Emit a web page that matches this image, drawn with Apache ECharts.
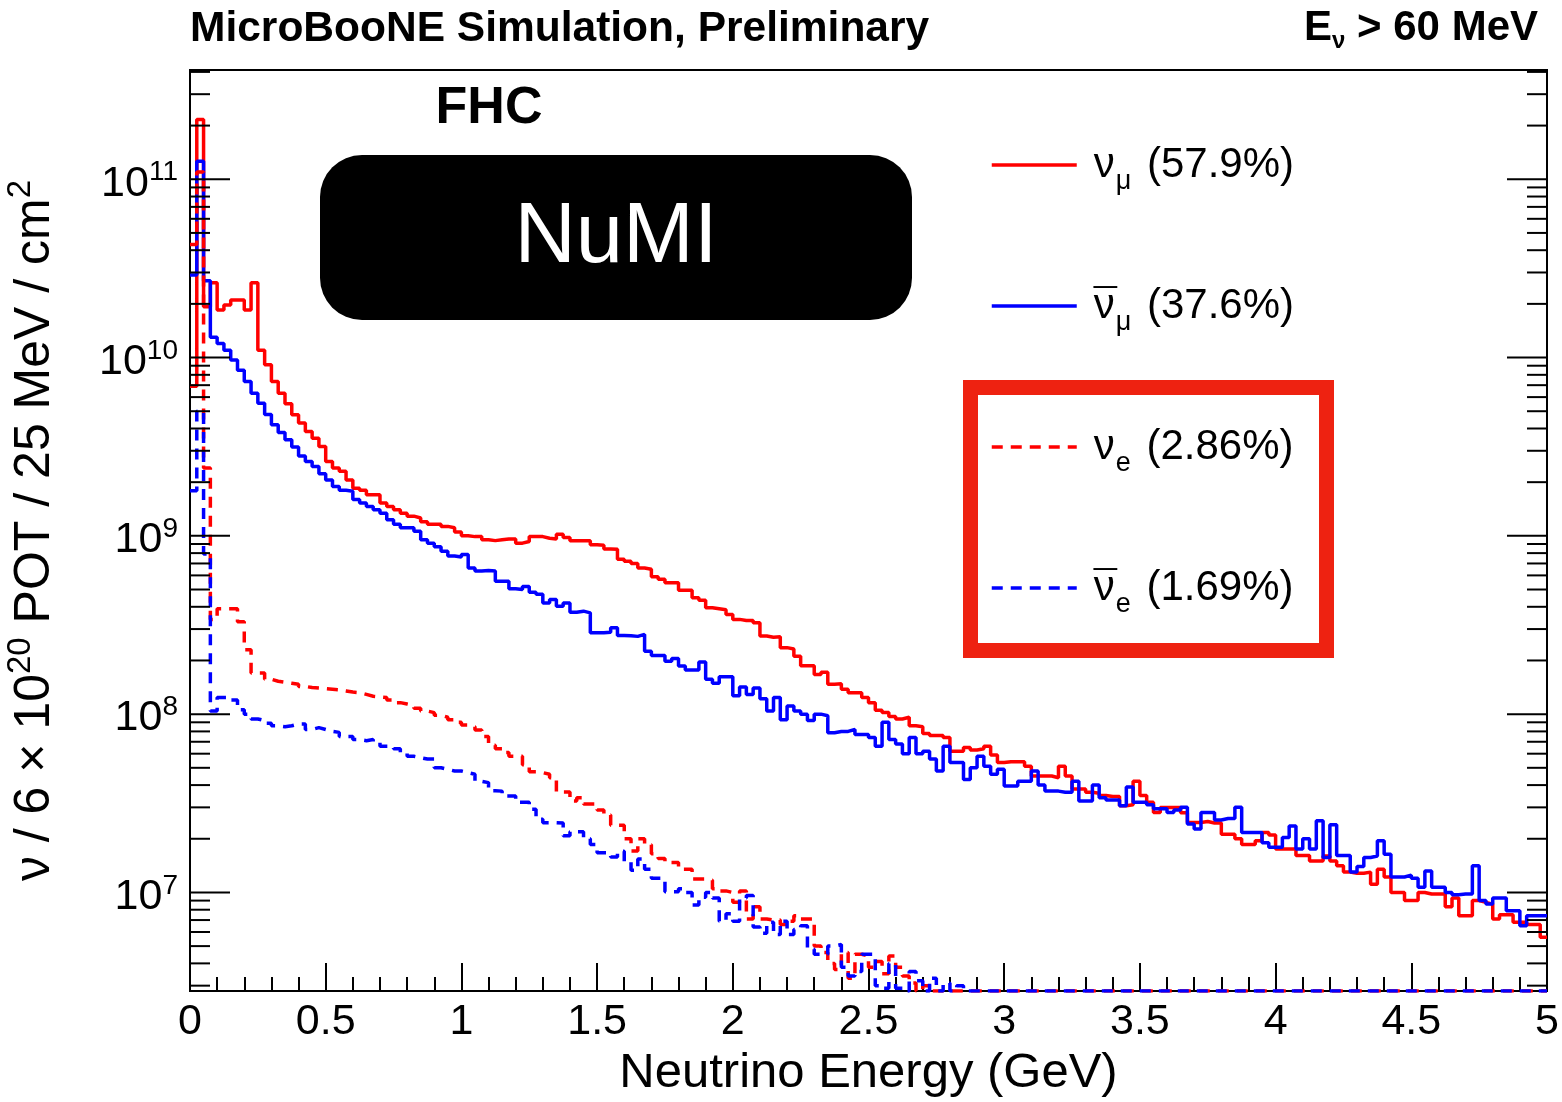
<!DOCTYPE html>
<html>
<head>
<meta charset="utf-8">
<title>NuMI flux at MicroBooNE</title>
<script src="https://cdn.jsdelivr.net/npm/echarts@6/dist/echarts.min.js"></script>
<style>
  html, body { margin: 0; padding: 0; background: #fff; }
  #flux { width: 1562px; height: 1102px; }
</style>
</head>
<body>
<div id="flux"></div>
<script>
// 25 MeV bins from 0 to 5 GeV, flux per bin
const binWidth = 0.025;

const numu = [
  6.9e9, 2.16e11, 1.93e10, 2.63e10, 1.85e10, 1.97e10, 2.1e10, 2.1e10, 1.85e10, 2.63e10,
  1.1e10, 9.1e9, 7.35e9, 6.3e9, 5.5e9, 4.77e9, 4.29e9, 3.85e9, 3.53e9, 3.17e9,
  2.61e9, 2.4e9, 2.3e9, 2.06e9, 1.85e9, 1.8e9, 1.7e9, 1.7e9, 1.53e9, 1.46e9,
  1.4e9, 1.34e9, 1.29e9, 1.26e9, 1.2e9, 1.16e9, 1.16e9, 1.13e9, 1.11e9, 1.05e9,
  1.0e9, 9.9e8, 9.9e8, 9.5e8, 9.4e8, 9.5e8, 9.6e8, 9.6e8, 9.1e8, 9.3e8,
  9.9e8, 9.9e8, 9.7e8, 9.6e8, 1.02e9, 9.8e8, 9.4e8, 9.4e8, 9.4e8, 8.9e8,
  8.85e8, 8.45e8, 8.4e8, 7.4e8, 7.2e8, 7.0e8, 6.6e8, 6.5e8, 5.9e8, 5.7e8,
  5.45e8, 5.45e8, 4.95e8, 4.95e8, 4.5e8, 4.35e8, 3.95e8, 3.9e8, 3.85e8, 3.62e8,
  3.4e8, 3.35e8, 3.35e8, 3.25e8, 2.74e8, 2.7e8, 2.72e8, 2.36e8, 2.32e8, 2.11e8,
  1.87e8, 1.87e8, 1.67e8, 1.72e8, 1.47e8, 1.48e8, 1.38e8, 1.32e8, 1.32e8, 1.24e8,
  1.16e8, 1.05e8, 1.02e8, 9.7e7, 9.4e7, 9.6e7, 8.6e7, 8.5e7, 7.8e7, 7.6e7,
  7.6e7, 7.4e7, 6.2e7, 6.2e7, 6.5e7, 6.3e7, 6.4e7, 6.6e7, 5.9e7, 5.35e7,
  5.4e7, 5.4e7, 5.4e7, 5.1e7, 4.5e7, 4.5e7, 4.5e7, 4.4e7, 5.1e7, 4.5e7,
  3.8e7, 3.8e7, 3.65e7, 3.6e7, 3.5e7, 3.45e7, 3.45e7, 3.06e7, 3.1e7, 4.2e7,
  3.5e7, 3.2e7, 2.81e7, 2.99e7, 2.99e7, 2.99e7, 2.8e7, 2.47e7, 2.47e7, 2.5e7,
  2.45e7, 2.45e7, 2.12e7, 2.12e7, 2.0e7, 1.86e7, 1.86e7, 1.95e7, 2.17e7, 2.1e7,
  1.75e7, 1.75e7, 1.75e7, 1.61e7, 1.61e7, 1.5e7, 1.5e7, 1.6e7, 1.5e7, 1.41e7,
  1.3e7, 1.28e7, 1.28e7, 1.3e7, 1.11e7, 1.35e7, 1.22e7, 1.0e7, 1.0e7, 9.0e6,
  9.0e6, 1.0e7, 9.8e6, 9.8e6, 9.8e6, 8.3e6, 9.3e6, 7.4e6, 7.4e6, 9.0e6,
  8.8e6, 8.6e6, 7.1e6, 7.5e6, 7.5e6, 6.8e6, 6.8e6, 6.6e6, 6.6e6, 5.6e6
];

const numubar = [
  2.9e10, 1.26e11, 2.7e10, 1.3e10, 1.2e10, 1.1e10, 9.7e9, 8.5e9, 7.35e9, 6.3e9,
  5.55e9, 4.8e9, 4.2e9, 3.8e9, 3.46e9, 3.15e9, 2.8e9, 2.61e9, 2.45e9, 2.23e9,
  2.06e9, 1.89e9, 1.8e9, 1.78e9, 1.6e9, 1.53e9, 1.46e9, 1.4e9, 1.34e9, 1.23e9,
  1.16e9, 1.11e9, 1.11e9, 1.06e9, 9.5e8, 9.1e8, 8.7e8, 8.2e8, 7.7e8, 7.6e8,
  7.85e8, 6.6e8, 6.35e8, 6.4e8, 6.35e8, 5.56e8, 5.56e8, 5.05e8, 5.0e8, 5.2e8,
  4.83e8, 4.7e8, 4.2e8, 4.4e8, 4.03e8, 4.2e8, 3.73e8, 3.78e8, 3.7e8, 2.86e8,
  2.86e8, 2.88e8, 3.05e8, 2.76e8, 2.75e8, 2.73e8, 2.8e8, 2.25e8, 2.13e8, 2.13e8,
  1.98e8, 2.05e8, 1.86e8, 1.77e8, 1.77e8, 1.96e8, 1.57e8, 1.49e8, 1.62e8, 1.62e8,
  1.27e8, 1.42e8, 1.29e8, 1.4e8, 1.22e8, 1.04e8, 1.24e8, 9.3e7, 1.11e8, 1.04e8,
  1.0e8, 9.2e7, 1.0e8, 9.8e7, 7.87e7, 8.0e7, 8.0e7, 8.2e7, 7.7e7, 7.7e7,
  7.4e7, 6.6e7, 9.0e7, 7.2e7, 6.8e7, 6.0e7, 7.4e7, 6.0e7, 6.2e7, 5.6e7,
  4.8e7, 6.6e7, 5.35e7, 5.35e7, 4.3e7, 5.0e7, 5.8e7, 5.1e7, 4.6e7, 4.9e7,
  3.95e7, 3.95e7, 4.2e7, 4.2e7, 4.8e7, 4.0e7, 3.7e7, 3.7e7, 3.65e7, 3.65e7,
  4.2e7, 3.26e7, 3.26e7, 4.0e7, 3.4e7, 3.3e7, 3.3e7, 3.06e7, 3.9e7, 3.2e7,
  3.2e7, 3.1e7, 2.95e7, 2.95e7, 2.81e7, 2.9e7, 3.0e7, 2.42e7, 2.27e7, 2.81e7,
  2.81e7, 2.55e7, 2.6e7, 2.6e7, 3.0e7, 2.17e7, 2.17e7, 2.17e7, 1.9e7, 1.79e7,
  1.79e7, 2.03e7, 2.36e7, 1.75e7, 2.0e7, 1.75e7, 2.52e7, 1.57e7, 2.4e7, 1.61e7,
  1.61e7, 1.3e7, 1.4e7, 1.57e7, 1.6e7, 1.95e7, 1.64e7, 1.22e7, 1.22e7, 1.25e7,
  1.2e7, 1.07e7, 1.32e7, 1.07e7, 1.07e7, 1.0e7, 9.7e6, 9.8e6, 9.8e6, 1.41e7,
  9.0e6, 8.6e6, 9.3e6, 9.3e6, 7.9e6, 7.9e6, 6.5e6, 7.4e6, 7.4e6, 7.4e6
];

const nue = [
  4.3e10, 1.1e11, 2.4e9, 3.4e8, 3.9e8, 3.9e8, 3.9e8, 3.3e8, 2.3e8, 1.7e8,
  1.7e8, 1.57e8, 1.53e8, 1.51e8, 1.49e8, 1.47e8, 1.43e8, 1.41e8, 1.4e8, 1.39e8,
  1.38e8, 1.37e8, 1.35e8, 1.33e8, 1.32e8, 1.29e8, 1.26e8, 1.25e8, 1.24e8, 1.2e8,
  1.16e8, 1.14e8, 1.12e8, 1.08e8, 1.04e8, 1.02e8, 9.85e7, 9.6e7, 9.3e7, 9.0e7,
  8.7e7, 8.5e7, 8.15e7, 7.5e7, 6.7e7, 6.4e7, 6.1e7, 5.8e7, 5.8e7, 5.2e7,
  4.75e7, 4.7e7, 4.6e7, 4.4e7, 3.66e7, 3.66e7, 3.26e7, 3.4e7, 3.13e7, 3.13e7,
  2.9e7, 2.72e7, 2.38e7, 2.38e7, 2.0e7, 1.71e7, 2.0e7, 1.85e7, 1.65e7, 1.55e7,
  1.47e7, 1.47e7, 1.35e7, 1.35e7, 1.19e7, 1.19e7, 1.17e7, 1.05e7, 1.02e7, 1.0e7,
  8.8e6, 1.02e7, 7.1e6, 8.3e6, 7.1e6, 7.0e6, 7.0e6, 6.6e6, 6.9e6, 7.4e6,
  7.1e6, 7.1e6, 5.0e6, 4.6e6, 4.0e6, 3.7e6, 4.6e6, 3.3e6, 4.5e6, 4.4e6,
  3.8e6, 4.1e6, 3.5e6, 4.4e6, 3.8e6, 3.4e6, 3.1e6, 2.8e6, 3.0e6, 2.8e6,
  2.8e6, 2.8e6, 2.8e6, 2.8e6, 2.8e6, 2.8e6, 2.8e6, 2.8e6, 2.8e6, 2.8e6,
  2.8e6, 2.8e6, 2.8e6, 2.8e6, 2.8e6, 2.8e6, 2.8e6, 2.8e6, 2.8e6, 2.8e6,
  2.8e6, 2.8e6, 2.8e6, 2.8e6, 2.8e6, 2.8e6, 2.8e6, 2.8e6, 2.8e6, 2.8e6,
  2.8e6, 2.8e6, 2.8e6, 2.8e6, 2.8e6, 2.8e6, 2.8e6, 2.8e6, 2.8e6, 2.8e6,
  2.8e6, 2.8e6, 2.8e6, 2.8e6, 2.8e6, 2.8e6, 2.8e6, 2.8e6, 2.8e6, 2.8e6,
  2.8e6, 2.8e6, 2.8e6, 2.8e6, 2.8e6, 2.8e6, 2.8e6, 2.8e6, 2.8e6, 2.8e6,
  2.8e6, 2.8e6, 2.8e6, 2.8e6, 2.8e6, 2.8e6, 2.8e6, 2.8e6, 2.8e6, 2.8e6,
  2.8e6, 2.8e6, 2.8e6, 2.8e6, 2.8e6, 2.8e6, 2.8e6, 2.8e6, 2.8e6, 2.8e6,
  2.8e6, 2.8e6, 2.8e6, 2.8e6, 2.8e6, 2.8e6, 2.8e6, 2.8e6, 2.8e6, 2.8e6
];

const nuebar = [
  1.79e9, 5.0e9, 7.9e8, 1.04e8, 1.24e8, 1.24e8, 1.2e8, 1.06e8, 1.0e8, 9.4e7,
  9.2e7, 8.9e7, 8.6e7, 8.5e7, 8.6e7, 8.8e7, 8.8e7, 8.2e7, 8.4e7, 8.2e7,
  8.0e7, 7.9e7, 7.5e7, 7.5e7, 7.2e7, 7.1e7, 7.2e7, 7.0e7, 6.6e7, 6.6e7,
  6.4e7, 6.1e7, 5.8e7, 5.7e7, 5.6e7, 5.6e7, 5.0e7, 4.9e7, 4.8e7, 4.8e7,
  4.7e7, 4.6e7, 4.2e7, 4.13e7, 3.72e7, 3.7e7, 3.47e7, 3.47e7, 3.2e7, 3.2e7,
  2.93e7, 2.57e7, 2.46e7, 2.46e7, 2.45e7, 2.08e7, 2.19e7, 2.19e7, 2.0e7, 1.86e7,
  1.67e7, 1.67e7, 1.58e7, 1.7e7, 1.48e7, 1.33e7, 1.54e7, 1.35e7, 1.2e7, 1.2e7,
  1.01e7, 1.01e7, 1.05e7, 1.0e7, 8.5e6, 9.4e6, 1.0e7, 9.3e6, 6.9e6, 7.6e6,
  6.9e6, 9.3e6, 9.6e6, 6.4e6, 5.9e6, 6.8e6, 5.8e6, 6.9e6, 5.8e6, 6.2e6,
  6.5e6, 4.8e6, 4.5e6, 4.5e6, 5.0e6, 5.1e6, 3.8e6, 3.4e6, 3.6e6, 4.5e6,
  4.5e6, 3.0e6, 2.9e6, 4.0e6, 2.9e6, 2.8e6, 3.6e6, 3.2e6, 2.8e6, 3.3e6,
  2.8e6, 3.1e6, 2.8e6, 3.0e6, 2.8e6, 2.8e6, 2.8e6, 2.8e6, 2.8e6, 2.8e6,
  2.8e6, 2.8e6, 2.8e6, 2.8e6, 2.8e6, 2.8e6, 2.8e6, 2.8e6, 2.8e6, 2.8e6,
  2.8e6, 2.8e6, 2.8e6, 2.8e6, 2.8e6, 2.8e6, 2.8e6, 2.8e6, 2.8e6, 2.8e6,
  2.8e6, 2.8e6, 2.8e6, 2.8e6, 2.8e6, 2.8e6, 2.8e6, 2.8e6, 2.8e6, 2.8e6,
  2.8e6, 2.8e6, 2.8e6, 2.8e6, 2.8e6, 2.8e6, 2.8e6, 2.8e6, 2.8e6, 2.8e6,
  2.8e6, 2.8e6, 2.8e6, 2.8e6, 2.8e6, 2.8e6, 2.8e6, 2.8e6, 2.8e6, 2.8e6,
  2.8e6, 2.8e6, 2.8e6, 2.8e6, 2.8e6, 2.8e6, 2.8e6, 2.8e6, 2.8e6, 2.8e6,
  2.8e6, 2.8e6, 2.8e6, 2.8e6, 2.8e6, 2.8e6, 2.8e6, 2.8e6, 2.8e6, 2.8e6,
  2.8e6, 2.8e6, 2.8e6, 2.8e6, 2.8e6, 2.8e6, 2.8e6, 2.8e6, 2.8e6, 2.8e6
];

// legend labels (rich text), one per series; {o|} is the bar of the antineutrino
const legendText = {
  numu: '{n|ν}{s|μ}{t| (57.9%)}',
  numubar: '{o|¯}{n|ν}{s|μ}{t| (37.6%)}',
  nue: '{n|ν}{s|e}{t| (2.86%)}',
  nuebar: '{o|¯}{n|ν}{s|e}{t| (1.69%)}'
};

// log axis tick values (ROOT style: decades long, 2..9 short)
const yMajorTicks = [1e7, 1e8, 1e9, 1e10, 1e11];
const yMinorTicks = [
  3e6, 4e6, 5e6, 6e6, 7e6, 8e6, 9e6,
  2e7, 3e7, 4e7, 5e7, 6e7, 7e7, 8e7, 9e7,
  2e8, 3e8, 4e8, 5e8, 6e8, 7e8, 8e8, 9e8,
  2e9, 3e9, 4e9, 5e9, 6e9, 7e9, 8e9, 9e9,
  2e10, 3e10, 4e10, 5e10, 6e10, 7e10, 8e10, 9e10,
  2e11, 3e11, 4e11
];

const yMin = 2.8e6;
const yMax = 4.1e11;
const font = 'Liberation Sans, Arial, Helvetica, sans-serif';

// turn per-bin values into step points at the bin low edges (+ closing point)
function toSteps(vals) {
  var pts = vals.map(function (v, i) { return [i * binWidth, v]; });
  pts.push([vals.length * binWidth, vals[vals.length - 1]]);
  return pts;
}

function histSeries(name, vals, color, dashed) {
  return {
    name: name,
    type: 'line',
    step: 'end',
    symbol: 'none',
    showSymbol: false,
    silent: true,
    data: toSteps(vals),
    lineStyle: { color: color, width: 3.5, type: dashed ? [11, 8] : 'solid' },
    itemStyle: { color: color },
    emphasis: { disabled: true }
  };
}

function renderYTick(params, api) {
  var v = api.value(1);
  var len = api.value(2);
  var l = api.coord([0, v]);
  var r = api.coord([5, v]);
  var st = { stroke: '#000', lineWidth: 2 };
  return {
    type: 'group',
    children: [
      { type: 'line', shape: { x1: l[0], y1: l[1], x2: l[0] + len, y2: l[1] }, style: st },
      { type: 'line', shape: { x1: r[0] - len, y1: r[1], x2: r[0], y2: r[1] }, style: st }
    ]
  };
}

var chart = echarts.init(document.getElementById('flux'));

var legendRich = {
  o: { fontSize: 42, lineHeight: 60, width: 0, color: '#000', fontFamily: font },
  n: { fontSize: 42, lineHeight: 60, color: '#000', fontFamily: font },
  s: { fontSize: 27, lineHeight: 36, verticalAlign: 'bottom', color: '#000', fontFamily: font, padding: [0, 4, 0, 1] },
  t: { fontSize: 42, lineHeight: 60, color: '#000', fontFamily: font }
};

chart.setOption({
  animation: false,
  backgroundColor: '#fff',
  textStyle: { fontFamily: font },
  grid: {
    left: 190, right: 15, top: 70, bottom: 111,
    show: true, borderColor: '#000', borderWidth: 2,
    outerBoundsMode: 'none'
  },
  xAxis: {
    type: 'value',
    min: 0, max: 5, interval: 0.5,
    axisLine: { show: true, lineStyle: { color: '#000', width: 2 } },
    axisTick: { show: true, inside: true, length: 28, lineStyle: { color: '#000', width: 2 } },
    minorTick: { show: true, splitNumber: 5, length: 14, lineStyle: { color: '#000', width: 2 } },
    splitLine: { show: false },
    axisLabel: { color: '#000', fontSize: 43, fontFamily: font, margin: 10 },
    name: 'Neutrino Energy (GeV)',
    nameLocation: 'middle',
    nameGap: 53,
    nameTextStyle: { color: '#000', fontSize: 49, fontFamily: font }
  },
  yAxis: {
    type: 'log',
    logBase: 10,
    min: yMin, max: yMax,
    axisLine: { show: true, lineStyle: { color: '#000', width: 2 } },
    axisTick: { show: false },
    splitLine: { show: false },
    axisLabel: {
      margin: 12,
      padding: [9, 0, 0, 0],
      formatter: function (v) {
        var e = Math.log10(v);
        if (Math.abs(e - Math.round(e)) > 1e-6) return '';
        return '{b|10}{e|' + Math.round(e) + '}';
      },
      rich: {
        b: { fontSize: 43, lineHeight: 50, color: '#000', fontFamily: font },
        e: { fontSize: 28, lineHeight: 22, verticalAlign: 'top', color: '#000', fontFamily: font }
      }
    },
    name: '{t|ν / 6 × 10}{u|20}{t| POT / 25 MeV / cm}{u|2}',
    nameLocation: 'middle',
    nameRotate: 90,
    nameGap: 124,
    nameTextStyle: {
      rich: {
        t: { fontSize: 50, lineHeight: 62, color: '#000', fontFamily: font },
        u: { fontSize: 33, lineHeight: 36, verticalAlign: 'top', color: '#000', fontFamily: font }
      }
    }
  },
  legend: {
    data: ['numu', 'numubar', 'nue', 'nuebar'],
    orient: 'vertical',
    left: 990, top: 144,
    padding: 0,
    itemWidth: 85, itemHeight: 20, itemGap: 90,
    selectedMode: false,
    itemStyle: { color: 'transparent', borderColor: 'transparent', borderWidth: 0, opacity: 0 },
    lineStyle: { width: 3.5 },
    formatter: function (name) { return legendText[name]; },
    textStyle: { padding: [0, 0, 0, 12], rich: legendRich }
  },
  graphic: [
    {
      type: 'text', left: 190, top: 8,
      style: { text: 'MicroBooNE Simulation, Preliminary', font: 'bold 42.5px ' + font, fill: '#000' }
    },
    {
      type: 'text', right: 24, top: 7,
      style: {
        text: '{b|E}{s|ν}{b| > 60 MeV}',
        rich: {
          b: { font: 'bold 42px ' + font, lineHeight: 50, fill: '#000' },
          s: { font: 'bold 24px ' + font, lineHeight: 28, verticalAlign: 'bottom', fill: '#000' }
        }
      }
    },
    {
      type: 'text', x: 489, y: 109,
      style: { text: 'FHC', font: 'bold 52px ' + font, fill: '#000', align: 'center', verticalAlign: 'middle' }
    },
    {
      type: 'rect',
      shape: { x: 320, y: 155, width: 592, height: 165, r: 42 },
      style: { fill: '#000' }
    },
    {
      type: 'text', x: 616, y: 239,
      style: { text: 'NuMI', font: '85px ' + font, fill: '#fff', align: 'center', verticalAlign: 'middle' }
    },
    {
      type: 'rect',
      shape: { x: 970.5, y: 387.5, width: 356, height: 263 },
      style: { fill: 'none', stroke: '#ee2211', lineWidth: 15 }
    }
  ],
  series: [
    histSeries('numu', numu, '#ff0000', false),
    histSeries('numubar', numubar, '#0000ff', false),
    histSeries('nue', nue, '#ff0000', true),
    histSeries('nuebar', nuebar, '#0000ff', true),
    {
      type: 'custom',
      silent: true,
      clip: false,
      renderItem: renderYTick,
      data: yMajorTicks.map(function (v) { return [0, v, 40]; })
        .concat(yMinorTicks.map(function (v) { return [0, v, 20]; })),
      z: 5
    }
  ]
});
</script>
</body>
</html>
